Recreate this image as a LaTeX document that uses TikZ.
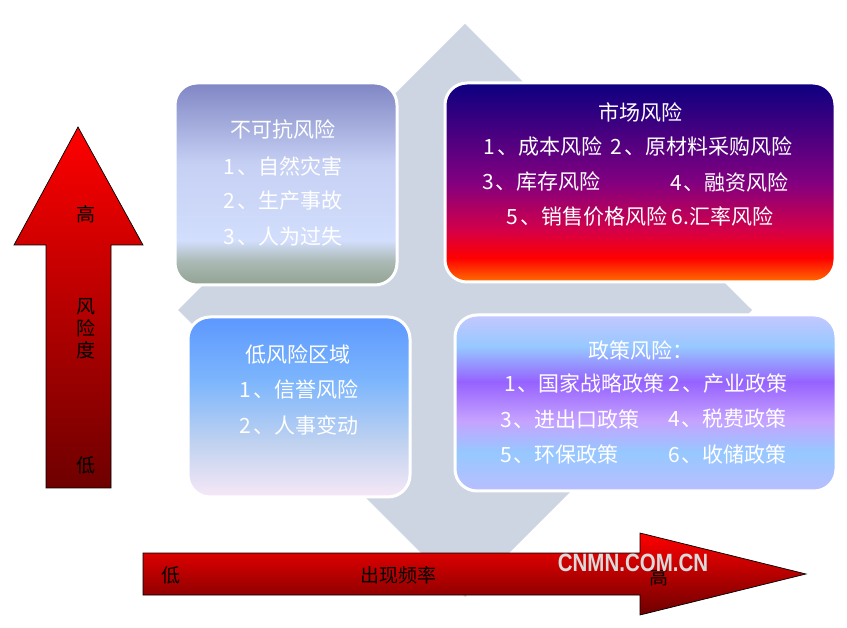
\documentclass[tikz,border=0pt]{standalone}
\usepackage{fontspec}
\setmainfont{Noto Sans CJK SC}
\newfontfamily\markfont{Liberation Sans}

\definecolor{diamondgrey}{RGB}{205,213,227}
\definecolor{arrowtop}{RGB}{255,0,0}
\definecolor{arrowbot}{RGB}{110,0,0}
\definecolor{markgrey}{RGB}{218,218,218}
% force majeure box
\definecolor{forceA}{RGB}{128,134,196}
\definecolor{forceB}{RGB}{198,208,244}
\definecolor{forceC}{RGB}{210,222,252}
\definecolor{forceD}{RGB}{172,186,182}
\definecolor{forceE}{RGB}{146,162,146}
% market box
\definecolor{mktA}{RGB}{12,0,128}
\definecolor{mktB}{RGB}{130,0,128}
\definecolor{mktC}{RGB}{212,0,72}
\definecolor{mktD}{RGB}{255,0,0}
\definecolor{mktE}{RGB}{255,112,0}
% low risk box
\definecolor{lowA}{RGB}{92,152,255}
\definecolor{lowB}{RGB}{125,182,252}
\definecolor{lowC}{RGB}{192,210,240}
\definecolor{lowD}{RGB}{246,232,246}
% policy box
\definecolor{polA}{RGB}{196,200,255}
\definecolor{polB}{RGB}{150,200,255}
\definecolor{polC}{RGB}{150,98,255}
\definecolor{polD}{RGB}{198,162,255}
\definecolor{polE}{RGB}{150,200,255}
\definecolor{polF}{RGB}{186,190,255}

\pgfdeclareverticalshading{forceshade}{100bp}{color(0bp)=(forceE); color(25bp)=(forceE); color(31bp)=(forceD); color(36bp)=(forceC); color(55bp)=(forceB); color(75bp)=(forceA); color(100bp)=(forceA)}
\pgfdeclareverticalshading{mktshade}{100bp}{color(0bp)=(mktE); color(25bp)=(mktE); color(31bp)=(mktD); color(38bp)=(mktC); color(50bp)=(mktB); color(75bp)=(mktA); color(100bp)=(mktA)}
\pgfdeclareverticalshading{lowshade}{100bp}{color(0bp)=(lowD); color(25bp)=(lowD); color(40bp)=(lowC); color(57bp)=(lowB); color(75bp)=(lowA); color(100bp)=(lowA)}
\pgfdeclareverticalshading{polshade}{100bp}{color(0bp)=(polF); color(25bp)=(polF); color(36bp)=(polE); color(45bp)=(polD); color(56bp)=(polC); color(66bp)=(polB); color(75bp)=(polA); color(100bp)=(polA)}

% enumeration comma, set a little apart from its number
\newcommand{\dun}{\hspace{2pt}、}

\tikzset{
  riskbox/.style={rounded corners=22pt, draw=white, line width=3pt, inner sep=0pt},
  boxtext/.style={text=white, font=\fontsize{21}{21}\selectfont, inner sep=0pt},
  axistext/.style={text=black, font=\fontsize{19}{22}\selectfont, inner sep=0pt},
  redarrow/.style={draw=black, line width=0.7pt, top color=arrowtop, bottom color=arrowbot}
}

\begin{document}
\begin{tikzpicture}[x=1pt, y=-1pt]
	\fill[white] (0,0) rectangle (847,628);
	\useasboundingbox (0,0) rectangle (847,628);
	% grey diamond behind the four boxes
	\fill[diamondgrey] (465,24) -- (752,310) -- (465,597) -- (178,310) -- cycle;
	% axes
	\path[redarrow] (46,488) -- (46,245) -- (14,245) -- (78,127) -- (143,245) -- (111,245) -- (111,488) -- cycle;
	\path[redarrow] (143,553) -- (640,553) -- (640,533) -- (806,574) -- (640,615) -- (640,595) -- (143,595) -- cycle;
	\node[axistext] (yhigh) at (86,214) {高};
	\node[axistext, align=center] (ylabel) at (86,329) {风\\险\\度};
	\node[axistext] (ylow) at (86,465) {低};
	\node[axistext] (xlow) at (171,575) {低};
	\node[axistext] (xlabel) at (398,575) {出现频率};
	\node[axistext] (xhigh) at (659,577) {高};
	% four boxes
	\node[riskbox, shading=forceshade, minimum width=222pt, minimum height=202pt] (force) at (286,184) {};
	\node[riskbox, shading=mktshade, minimum width=390pt, minimum height=199pt] (market) at (640,182.5) {};
	\node[riskbox, shading=lowshade, minimum width=222pt, minimum height=180pt] (low) at (299,407) {};
	\node[riskbox, shading=polshade, minimum width=381pt, minimum height=176pt] (policy) at (645.5,403) {};
	% box texts
	\node[boxtext] (force0) at (283,130) {不可抗风险};
	\node[boxtext] (force1) at (283,166) {1\dun 自然灾害};
	\node[boxtext] (force2) at (283,201) {2\dun 生产事故};
	\node[boxtext] (force3) at (283,237) {3\dun 人为过失};
	\node[boxtext] (market0) at (640,112) {市场风险};
	\node[boxtext] (market1) at (638,147) {1\dun 成本风险\hspace{8pt}2\dun 原材料采购风险};
	\node[boxtext, anchor=west] (market2) at (482,182) {3\dun 库存风险};
	\node[boxtext, anchor=west] (market3) at (670,182) {4\dun 融资风险};
	\node[boxtext] (market4) at (640,217) {5\dun 销售价格风险\hspace{4pt}6.汇率风险};
	\node[boxtext] (low0) at (298,354) {低风险区域};
	\node[boxtext] (low1) at (299,389) {1\dun 信誉风险};
	\node[boxtext] (low2) at (299,425) {2\dun 人事变动};
	\node[boxtext] (policy0) at (641,350) {政策风险：};
	\node[boxtext] (policy1) at (646,384) {1\dun 国家战略政策\hspace{4pt}2\dun 产业政策};
	\node[boxtext, anchor=west] (policy2) at (500,419) {3\dun 进出口政策};
	\node[boxtext, anchor=west] (policy3) at (668,419) {4\dun 税费政策};
	\node[boxtext, anchor=west] (policy4) at (500,454) {5\dun 环保政策};
	\node[boxtext, anchor=west] (policy5) at (668,454) {6\dun 收储政策};
	% watermark
	\node[text=markgrey, font=\markfont\bfseries\fontsize{25}{25}\selectfont, inner sep=0pt] (mark) at (633,563) {\scalebox{0.82}[1]{CNMN.COM.CN}};
\end{tikzpicture}
\end{document}
